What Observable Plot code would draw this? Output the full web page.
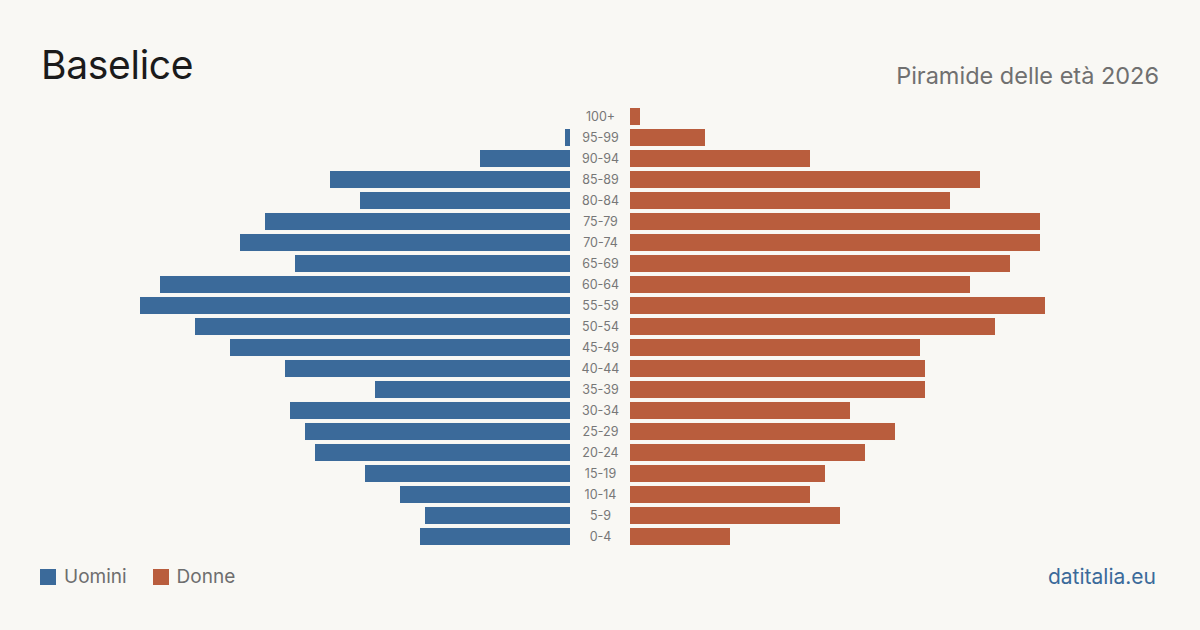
<!DOCTYPE html>
<html>
<head>
<meta charset="utf-8">
<script src="https://cdn.jsdelivr.net/npm/d3@7"></script>
<script src="https://cdn.jsdelivr.net/npm/@observablehq/plot@0.6"></script>
<style>
  html, body { margin: 0; padding: 0; background: #f9f8f4; }
  #page { position: relative; width: 1200px; height: 630px; background: #f9f8f4; font-family: Inter, "Noto Sans", sans-serif; overflow: hidden; }
  #title { position: absolute; left: 41px; top: 45px; font-size: 39px; color: #1b1b1b; line-height: 1; letter-spacing: -0.3px; }
  #subtitle { position: absolute; right: 41px; top: 64px; font-size: 23.5px; color: #707070; line-height: 1; }
  #chart { position: absolute; left: 0; top: 0; }
  #legend { position: absolute; left: 40px; top: 565px; display: flex; align-items: center; font-size: 19px; color: #6e6e6e; }
  #legend .sw { width: 16px; height: 16px; display: inline-block; margin-right: 8px; }
  #legend .item { display: flex; align-items: center; margin-right: 26px; }
  #source { position: absolute; right: 44px; top: 564px; font-size: 21px; color: #3b6a9a; }
</style>
</head>
<body>
<div id="page">
  <div id="title">Baselice</div>
  <div id="subtitle">Piramide delle età 2026</div>
  <div id="chart"></div>
  <div id="legend"></div>
  <div id="source">datitalia.eu</div>
</div>
<script>
// Age groups, youngest first
const ageGroups = ["0-4","5-9","10-14","15-19","20-24","25-29","30-34","35-39","40-44","45-49",
  "50-54","55-59","60-64","65-69","70-74","75-79","80-84","85-89","90-94","95-99","100+"];
// Residents by age group
const men   = [30, 29, 34, 41, 51, 53, 56, 39, 57, 68, 75, 86, 82, 55, 66, 61, 42, 48, 18, 1, 0];
const women = [20, 42, 36, 39, 47, 53, 44, 59, 59, 58, 73, 83, 68, 76, 82, 82, 64, 70, 36, 15, 2];
const seriesNames = ["Uomini", "Donne"];
const seriesColors = ["#3b6a9a", "#b95d3d"];

const rows = ageGroups.flatMap((age, i) => [
  {age, sex: "Uomini", value: -men[i]},
  {age, sex: "Donne", value: women[i]}
]);

const maxV = d3.max([...men, ...women]);
const half = 30; // gap between the two halves, holding the age labels

const chart = Plot.plot({
  width: 1200,
  height: 630,
  marginTop: 108,
  marginBottom: 85,
  marginLeft: 170,
  marginRight: 170,
  style: {background: "transparent", fontFamily: "Inter, 'Noto Sans', sans-serif"},
  x: {domain: [-maxV, maxV], axis: null},
  y: {domain: [...ageGroups].reverse(), axis: null, paddingInner: 0.19, paddingOuter: 0, round: false},
  color: {domain: seriesNames, range: seriesColors},
  marks: [
    Plot.barX(rows.filter(d => d.sex === "Uomini" && d.value !== 0), {x: "value", y: "age", fill: "sex", dx: -half}),
    Plot.barX(rows.filter(d => d.sex === "Donne" && d.value !== 0), {x: "value", y: "age", fill: "sex", dx: half}),
    Plot.text(ageGroups, {x: () => 0, y: d => d, text: d => d, fill: "#777", fontSize: 12.5})
  ]
});
document.getElementById("chart").appendChild(chart);

const legend = document.getElementById("legend");
seriesNames.forEach((name, i) => {
  const item = document.createElement("div");
  item.className = "item";
  item.innerHTML = `<span class="sw" style="background:${seriesColors[i]}"></span><span>${name}</span>`;
  legend.appendChild(item);
});
</script>
</body>
</html>
